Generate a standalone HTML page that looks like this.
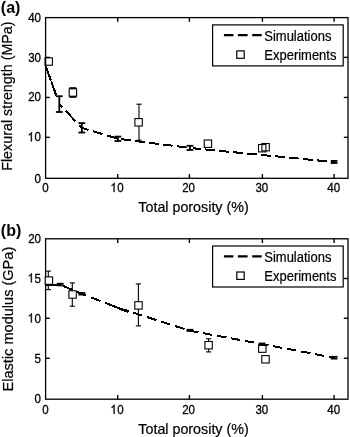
<!DOCTYPE html>
<html><head><meta charset="utf-8"><style>
html,body{margin:0;padding:0;background:#fff;}
svg{display:block;filter:grayscale(1) blur(0.3px);}
.t{font-family:"Liberation Sans",sans-serif;font-size:13px;fill:#000;stroke:#000;stroke-width:0.3px;}
.l{font-family:"Liberation Sans",sans-serif;font-size:13px;fill:#000;stroke:#000;stroke-width:0.2px;}
.a{font-family:"Liberation Sans",sans-serif;font-size:14.3px;fill:#000;stroke:#000;stroke-width:0.2px;}
.b{font-family:"Liberation Sans",sans-serif;font-size:16px;font-weight:bold;fill:#000;}
</style></head><body>
<svg width="350" height="437" viewBox="0 0 350 437">
<rect width="350" height="437" fill="#fff"/>
<text x="0.8" y="12.9" class="b">(a)</text>
<text x="0.8" y="235.6" class="b">(b)</text>
<rect x="45.6" y="17.60" width="302.40" height="160.70" fill="none" stroke="#000" stroke-width="1.3"/>
<line x1="117.70" y1="178.30" x2="117.70" y2="174.10" stroke="#000" stroke-width="1.4"/>
<line x1="117.70" y1="17.60" x2="117.70" y2="21.80" stroke="#000" stroke-width="1.4"/>
<line x1="189.40" y1="178.30" x2="189.40" y2="174.10" stroke="#000" stroke-width="1.4"/>
<line x1="189.40" y1="17.60" x2="189.40" y2="21.80" stroke="#000" stroke-width="1.4"/>
<line x1="262.40" y1="178.30" x2="262.40" y2="174.10" stroke="#000" stroke-width="1.4"/>
<line x1="262.40" y1="17.60" x2="262.40" y2="21.80" stroke="#000" stroke-width="1.4"/>
<line x1="334.10" y1="178.30" x2="334.10" y2="174.10" stroke="#000" stroke-width="1.4"/>
<line x1="334.10" y1="17.60" x2="334.10" y2="21.80" stroke="#000" stroke-width="1.4"/>
<line x1="45.6" y1="137.35" x2="49.800000000000004" y2="137.35" stroke="#000" stroke-width="1.4"/>
<line x1="348.0" y1="137.35" x2="343.8" y2="137.35" stroke="#000" stroke-width="1.4"/>
<line x1="45.6" y1="97.45" x2="49.800000000000004" y2="97.45" stroke="#000" stroke-width="1.4"/>
<line x1="348.0" y1="97.45" x2="343.8" y2="97.45" stroke="#000" stroke-width="1.4"/>
<line x1="45.6" y1="57.40" x2="49.800000000000004" y2="57.40" stroke="#000" stroke-width="1.4"/>
<line x1="348.0" y1="57.40" x2="343.8" y2="57.40" stroke="#000" stroke-width="1.4"/>
<text transform="translate(45.55 192.10) scale(0.89 1)" text-anchor="middle" class="t">0</text>
<text transform="translate(117.30 192.10) scale(0.89 1)" text-anchor="middle" class="t"> 0</text>
<path transform="translate(110.87 192.10) scale(0.005649 -0.006348)" d="M660 0H480V1140Q420 1085 320 1025Q220 965 130 935V1105Q285 1175 395 1275Q505 1375 555 1466H660Z" fill="#000" stroke="#000" stroke-width="47.3"/>
<text transform="translate(188.60 192.10) scale(0.89 1)" text-anchor="middle" class="t">20</text>
<text transform="translate(261.85 192.10) scale(0.89 1)" text-anchor="middle" class="t">30</text>
<text transform="translate(333.65 192.10) scale(0.89 1)" text-anchor="middle" class="t">40</text>
<text transform="translate(41.00 182.65) scale(0.89 1)" text-anchor="end" class="t">0</text>
<text transform="translate(41.00 141.45) scale(0.89 1)" text-anchor="end" class="t"> 0</text>
<path transform="translate(28.13 141.45) scale(0.005649 -0.006348)" d="M660 0H480V1140Q420 1085 320 1025Q220 965 130 935V1105Q285 1175 395 1275Q505 1375 555 1466H660Z" fill="#000" stroke="#000" stroke-width="47.3"/>
<text transform="translate(41.00 101.40) scale(0.89 1)" text-anchor="end" class="t">20</text>
<text transform="translate(41.00 61.65) scale(0.89 1)" text-anchor="end" class="t">30</text>
<text transform="translate(41.00 21.85) scale(0.89 1)" text-anchor="end" class="t">40</text>
<path d="M45.80 66.21L50.93 80.60 M51.25 81.50L56.24 95.50 M59.30 104.10L62.52 107.50 M65.75 110.90L75.41 121.10 M79.30 125.20L81.84 127.88 M81.84 127.88L88.60 129.91 M93.10 131.27L102.60 134.13 M107.10 135.48L116.60 138.34 M121.10 139.14L130.60 140.36 M135.10 140.94L144.60 142.15 M149.10 142.73L158.60 143.95 M163.10 144.52L172.60 145.74 M177.10 146.32L186.60 147.54 M192.90 148.25L200.60 149.01 M205.10 149.44L214.60 150.37 M219.10 150.81L228.60 151.74 M233.10 152.18L242.60 153.10 M247.10 153.54L256.60 154.47 M261.10 154.91L262.04 155.00 M262.04 155.00L270.60 155.83 M275.10 156.27L284.60 157.20 M289.10 157.64L298.60 158.56 M303.10 159.00L312.60 159.93 M317.10 160.37L326.60 161.30 M331.10 161.73L334.12 162.03" fill="none" stroke="#000" stroke-width="2" shape-rendering="crispEdges"/>
<line x1="59.30" y1="96.20" x2="59.30" y2="112.00" stroke="#000" stroke-width="1.8"/>
<line x1="55.90" y1="96.20" x2="62.70" y2="96.20" stroke="#000" stroke-width="1.8"/>
<line x1="55.90" y1="112.00" x2="62.70" y2="112.00" stroke="#000" stroke-width="1.8"/>
<line x1="81.84" y1="123.10" x2="81.84" y2="132.55" stroke="#000" stroke-width="1.8"/>
<line x1="78.44" y1="123.10" x2="85.24" y2="123.10" stroke="#000" stroke-width="1.8"/>
<line x1="78.44" y1="132.55" x2="85.24" y2="132.55" stroke="#000" stroke-width="1.8"/>
<line x1="117.88" y1="136.60" x2="117.88" y2="141.00" stroke="#000" stroke-width="1.8"/>
<line x1="114.48" y1="136.60" x2="121.28" y2="136.60" stroke="#000" stroke-width="1.8"/>
<line x1="114.48" y1="141.00" x2="121.28" y2="141.00" stroke="#000" stroke-width="1.8"/>
<line x1="189.96" y1="145.80" x2="189.96" y2="150.00" stroke="#000" stroke-width="1.8"/>
<line x1="186.56" y1="145.80" x2="193.36" y2="145.80" stroke="#000" stroke-width="1.8"/>
<line x1="186.56" y1="150.00" x2="193.36" y2="150.00" stroke="#000" stroke-width="1.8"/>
<line x1="334.12" y1="160.90" x2="334.12" y2="163.00" stroke="#000" stroke-width="1.8"/>
<line x1="330.72" y1="160.90" x2="337.52" y2="160.90" stroke="#000" stroke-width="1.8"/>
<line x1="330.72" y1="163.00" x2="337.52" y2="163.00" stroke="#000" stroke-width="1.8"/>
<rect x="45.00" y="57.80" width="7.4" height="7.4" fill="none" stroke="#000" stroke-width="1.1"/>
<line x1="72.90" y1="88.20" x2="72.90" y2="96.90" stroke="#000" stroke-width="1.1"/>
<line x1="70.30" y1="88.20" x2="75.50" y2="88.20" stroke="#000" stroke-width="1.1"/>
<line x1="70.30" y1="96.90" x2="75.50" y2="96.90" stroke="#000" stroke-width="1.1"/>
<rect x="69.20" y="88.80" width="7.4" height="7.4" fill="#fff" stroke="#000" stroke-width="1.1"/>
<line x1="139.00" y1="104.20" x2="139.00" y2="140.30" stroke="#000" stroke-width="1.1"/>
<line x1="136.40" y1="104.20" x2="141.60" y2="104.20" stroke="#000" stroke-width="1.1"/>
<line x1="136.40" y1="140.30" x2="141.60" y2="140.30" stroke="#000" stroke-width="1.1"/>
<rect x="134.90" y="118.60" width="7.4" height="7.4" fill="#fff" stroke="#000" stroke-width="1.1"/>
<rect x="204.20" y="140.00" width="7.4" height="7.4" fill="none" stroke="#000" stroke-width="1.1"/>
<rect x="258.50" y="144.50" width="7.4" height="7.4" fill="none" stroke="#000" stroke-width="1.1"/>
<rect x="261.90" y="143.50" width="7.4" height="7.4" fill="none" stroke="#000" stroke-width="1.1"/>
<rect x="212.6" y="24.90" width="130.6" height="41" fill="#fff" stroke="#000" stroke-width="1.2"/>
<path d="M223.9 35.20H233.4M237.9 35.20H247.6M252.2 35.20H261.7" stroke="#000" stroke-width="2.2"/>
<rect x="236.8" y="50.90" width="7.4" height="7.4" fill="none" stroke="#000" stroke-width="1.2"/>
<text transform="translate(264.3 41.30) scale(1 1.065)" class="l">Simulations</text>
<text transform="translate(264.3 59.90) scale(1 1.065)" class="l">Experiments</text>
<text transform="translate(193.5 211.50) scale(1 1.06)" text-anchor="middle" class="a">Total porosity (%)</text>
<text transform="translate(12.4 96.10) rotate(-90)" text-anchor="middle" class="a" style="font-size:14.3px">Flexural strength (MPa)</text>
<path d="M69.4 88.0H76.4M69.4 97.0H76.4" stroke="#000" stroke-width="1.5"/>
<rect x="45.6" y="238.80" width="302.40" height="160.40" fill="none" stroke="#000" stroke-width="1.3"/>
<line x1="117.70" y1="399.20" x2="117.70" y2="395.00" stroke="#000" stroke-width="1.4"/>
<line x1="117.70" y1="238.80" x2="117.70" y2="243.00" stroke="#000" stroke-width="1.4"/>
<line x1="189.40" y1="399.20" x2="189.40" y2="395.00" stroke="#000" stroke-width="1.4"/>
<line x1="189.40" y1="238.80" x2="189.40" y2="243.00" stroke="#000" stroke-width="1.4"/>
<line x1="262.40" y1="399.20" x2="262.40" y2="395.00" stroke="#000" stroke-width="1.4"/>
<line x1="262.40" y1="238.80" x2="262.40" y2="243.00" stroke="#000" stroke-width="1.4"/>
<line x1="334.10" y1="399.20" x2="334.10" y2="395.00" stroke="#000" stroke-width="1.4"/>
<line x1="334.10" y1="238.80" x2="334.10" y2="243.00" stroke="#000" stroke-width="1.4"/>
<line x1="45.6" y1="358.30" x2="49.800000000000004" y2="358.30" stroke="#000" stroke-width="1.4"/>
<line x1="348.0" y1="358.30" x2="343.8" y2="358.30" stroke="#000" stroke-width="1.4"/>
<line x1="45.6" y1="318.30" x2="49.800000000000004" y2="318.30" stroke="#000" stroke-width="1.4"/>
<line x1="348.0" y1="318.30" x2="343.8" y2="318.30" stroke="#000" stroke-width="1.4"/>
<line x1="45.6" y1="278.50" x2="49.800000000000004" y2="278.50" stroke="#000" stroke-width="1.4"/>
<line x1="348.0" y1="278.50" x2="343.8" y2="278.50" stroke="#000" stroke-width="1.4"/>
<text transform="translate(45.55 413.95) scale(0.89 1)" text-anchor="middle" class="t">0</text>
<text transform="translate(117.30 413.95) scale(0.89 1)" text-anchor="middle" class="t"> 0</text>
<path transform="translate(110.87 413.95) scale(0.005649 -0.006348)" d="M660 0H480V1140Q420 1085 320 1025Q220 965 130 935V1105Q285 1175 395 1275Q505 1375 555 1466H660Z" fill="#000" stroke="#000" stroke-width="47.3"/>
<text transform="translate(188.60 413.95) scale(0.89 1)" text-anchor="middle" class="t">20</text>
<text transform="translate(261.85 413.95) scale(0.89 1)" text-anchor="middle" class="t">30</text>
<text transform="translate(333.65 413.95) scale(0.89 1)" text-anchor="middle" class="t">40</text>
<text transform="translate(41.00 403.10) scale(0.89 1)" text-anchor="end" class="t">0</text>
<text transform="translate(41.00 362.55) scale(0.89 1)" text-anchor="end" class="t">5</text>
<text transform="translate(41.00 322.55) scale(0.89 1)" text-anchor="end" class="t"> 0</text>
<path transform="translate(28.13 322.55) scale(0.005649 -0.006348)" d="M660 0H480V1140Q420 1085 320 1025Q220 965 130 935V1105Q285 1175 395 1275Q505 1375 555 1466H660Z" fill="#000" stroke="#000" stroke-width="47.3"/>
<text transform="translate(41.00 282.50) scale(0.89 1)" text-anchor="end" class="t"> 5</text>
<path transform="translate(28.13 282.50) scale(0.005649 -0.006348)" d="M660 0H480V1140Q420 1085 320 1025Q220 965 130 935V1105Q285 1175 395 1275Q505 1375 555 1466H660Z" fill="#000" stroke="#000" stroke-width="47.3"/>
<text transform="translate(41.00 242.60) scale(0.89 1)" text-anchor="end" class="t">20</text>
<path d="M45.80 284.60L58.60 284.69 M62.90 285.85L72.40 289.89 M76.90 291.80L81.84 293.90 M81.84 293.90L86.40 295.65 M90.90 297.39L100.40 301.04 M104.90 302.77L117.88 307.77 M117.88 307.77L128.60 311.20 M132.90 312.57L142.40 315.60 M146.90 317.04L156.40 320.07 M160.90 321.51L170.40 324.54 M174.90 325.98L184.40 329.01 M188.90 330.45L189.96 330.79 M189.96 330.79L198.40 332.34 M202.90 333.17L212.40 334.91 M216.90 335.74L226.40 337.48 M230.90 338.31L240.40 340.05 M244.90 340.88L254.40 342.62 M258.90 343.45L262.04 344.02 M262.04 344.02L268.40 345.23 M272.90 346.09L282.40 347.90 M286.90 348.75L296.40 350.56 M300.90 351.42L310.40 353.22 M314.90 354.08L324.40 355.89 M328.90 356.74L334.12 357.74 M119.40 308.90L128.40 311.90" fill="none" stroke="#000" stroke-width="2" shape-rendering="crispEdges"/>
<line x1="60.20" y1="283.70" x2="60.20" y2="285.40" stroke="#000" stroke-width="1.8"/>
<line x1="56.80" y1="283.70" x2="63.60" y2="283.70" stroke="#000" stroke-width="1.8"/>
<line x1="56.80" y1="285.40" x2="63.60" y2="285.40" stroke="#000" stroke-width="1.8"/>
<line x1="81.84" y1="293.00" x2="81.84" y2="294.60" stroke="#000" stroke-width="1.8"/>
<line x1="78.44" y1="293.00" x2="85.24" y2="293.00" stroke="#000" stroke-width="1.8"/>
<line x1="78.44" y1="294.60" x2="85.24" y2="294.60" stroke="#000" stroke-width="1.8"/>
<line x1="189.96" y1="329.80" x2="189.96" y2="330.90" stroke="#000" stroke-width="1.8"/>
<line x1="186.56" y1="329.80" x2="193.36" y2="329.80" stroke="#000" stroke-width="1.8"/>
<line x1="186.56" y1="330.90" x2="193.36" y2="330.90" stroke="#000" stroke-width="1.8"/>
<line x1="262.04" y1="343.50" x2="262.04" y2="345.00" stroke="#000" stroke-width="1.8"/>
<line x1="258.64" y1="343.50" x2="265.44" y2="343.50" stroke="#000" stroke-width="1.8"/>
<line x1="258.64" y1="345.00" x2="265.44" y2="345.00" stroke="#000" stroke-width="1.8"/>
<line x1="334.12" y1="356.80" x2="334.12" y2="358.60" stroke="#000" stroke-width="1.8"/>
<line x1="330.72" y1="356.80" x2="337.52" y2="356.80" stroke="#000" stroke-width="1.8"/>
<line x1="330.72" y1="358.60" x2="337.52" y2="358.60" stroke="#000" stroke-width="1.8"/>
<line x1="48.30" y1="271.10" x2="48.30" y2="289.60" stroke="#000" stroke-width="1.1"/>
<line x1="45.70" y1="271.10" x2="50.90" y2="271.10" stroke="#000" stroke-width="1.1"/>
<line x1="45.70" y1="289.60" x2="50.90" y2="289.60" stroke="#000" stroke-width="1.1"/>
<rect x="45.20" y="276.90" width="7.4" height="7.4" fill="#fff" stroke="#000" stroke-width="1.1"/>
<line x1="72.30" y1="282.90" x2="72.30" y2="306.20" stroke="#000" stroke-width="1.1"/>
<line x1="69.70" y1="282.90" x2="74.90" y2="282.90" stroke="#000" stroke-width="1.1"/>
<line x1="69.70" y1="306.20" x2="74.90" y2="306.20" stroke="#000" stroke-width="1.1"/>
<rect x="68.90" y="290.80" width="7.4" height="7.4" fill="#fff" stroke="#000" stroke-width="1.1"/>
<line x1="138.40" y1="283.90" x2="138.40" y2="325.90" stroke="#000" stroke-width="1.1"/>
<line x1="135.80" y1="283.90" x2="141.00" y2="283.90" stroke="#000" stroke-width="1.1"/>
<line x1="135.80" y1="325.90" x2="141.00" y2="325.90" stroke="#000" stroke-width="1.1"/>
<rect x="134.80" y="301.70" width="7.4" height="7.4" fill="#fff" stroke="#000" stroke-width="1.1"/>
<line x1="208.60" y1="338.80" x2="208.60" y2="351.90" stroke="#000" stroke-width="1.1"/>
<line x1="206.00" y1="338.80" x2="211.20" y2="338.80" stroke="#000" stroke-width="1.1"/>
<line x1="206.00" y1="351.90" x2="211.20" y2="351.90" stroke="#000" stroke-width="1.1"/>
<rect x="204.90" y="341.50" width="7.4" height="7.4" fill="#fff" stroke="#000" stroke-width="1.1"/>
<rect x="258.60" y="344.90" width="7.4" height="7.4" fill="none" stroke="#000" stroke-width="1.1"/>
<rect x="261.80" y="355.60" width="7.4" height="7.4" fill="none" stroke="#000" stroke-width="1.1"/>
<rect x="212.6" y="246.00" width="130.6" height="41" fill="#fff" stroke="#000" stroke-width="1.2"/>
<path d="M223.9 256.30H233.4M237.9 256.30H247.6M252.2 256.30H261.7" stroke="#000" stroke-width="2.2"/>
<rect x="236.8" y="272.00" width="7.4" height="7.4" fill="none" stroke="#000" stroke-width="1.2"/>
<text transform="translate(264.3 262.40) scale(1 1.065)" class="l">Simulations</text>
<text transform="translate(264.3 281.00) scale(1 1.065)" class="l">Experiments</text>
<text transform="translate(193.5 433.80) scale(1 1.06)" text-anchor="middle" class="a">Total porosity (%)</text>
<text transform="translate(12.9 319.10) rotate(-90)" text-anchor="middle" class="a" style="font-size:14.55px">Elastic modulus (GPa)</text>
</svg>
</body></html>
